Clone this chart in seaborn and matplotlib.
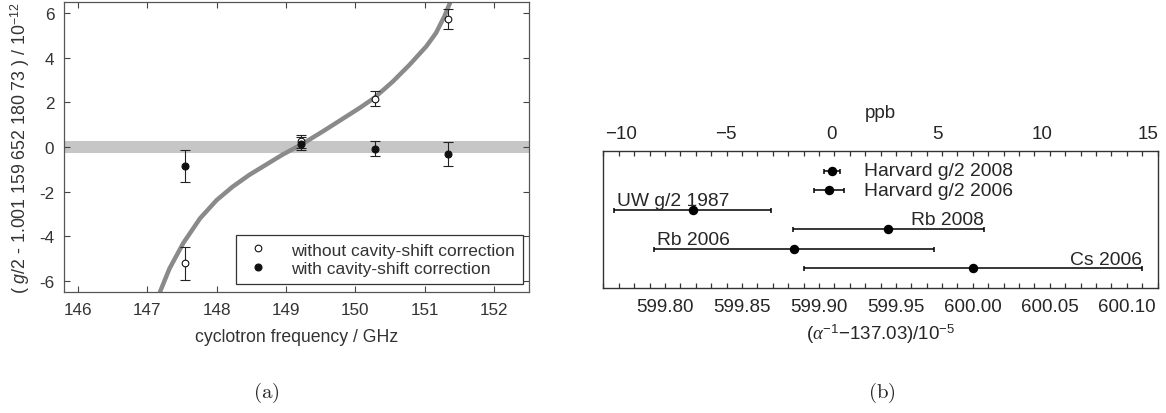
import matplotlib
matplotlib.use('Agg')
import matplotlib.pyplot as plt
import seaborn as sns

# ---- panel (a): g/2 vs cyclotron frequency ----
freq = [147.54, 149.21, 150.28, 151.33]
g_uncorr = [-5.22, 0.25, 2.17, 5.73]
g_uncorr_err = [0.73, 0.30, 0.33, 0.45]
g_corr = [-0.86, 0.15, -0.07, -0.31]
g_corr_err = [0.73, 0.30, 0.33, 0.52]
band_center = 0.0
band_halfwidth = 0.28

# cavity-shift curve
curve_freq = [147.18, 147.32, 147.52, 147.76, 148.00, 148.23, 148.47, 148.95,
              149.22, 149.53, 150.06, 150.27, 150.54, 150.78, 151.02, 151.16,
              151.28, 151.38]
curve_g = [-6.52, -5.45, -4.30, -3.20, -2.38, -1.78, -1.25, -0.34,
           0.11, 0.70, 1.75, 2.20, 2.94, 3.69, 4.51, 5.11, 5.85, 6.60]

freq_ticks = [146, 147, 148, 149, 150, 151, 152]
g_ticks = [-6, -4, -2, 0, 2, 4, 6]
g_tick_labels = ['-6', '-4', '-2', '0', '2', '4', '6']

# ---- panel (b): alpha^-1 comparison ----
meas_labels = ['Harvard g/2 2008', 'Harvard g/2 2006', 'UW g/2 1987',
               'Rb 2008', 'Rb 2006', 'Cs 2006']
meas_rows = [1, 2, 3, 4, 5, 6]
alpha_val = [599.9082, 599.9068, 599.818, 599.945, 599.884, 600.000]
alpha_err = [0.0052, 0.0098, 0.051, 0.062, 0.091, 0.110]
label_pos = ['beside', 'beside', 'left', 'right', 'left', 'right']
alpha_ticks = [599.80, 599.85, 599.90, 599.95, 600.00, 600.05, 600.10]
ppb_ticks = [-10, -5, 0, 5, 10, 15]

sns.set_theme(style='white')
plt.rcParams['font.family'] = ['Liberation Sans', 'DejaVu Sans']
plt.rcParams['mathtext.fontset'] = 'custom'
plt.rcParams['mathtext.rm'] = 'Liberation Sans'
plt.rcParams['mathtext.it'] = 'Liberation Serif:italic'
plt.rcParams['mathtext.sf'] = 'Liberation Sans:italic'
plt.rcParams['axes.unicode_minus'] = True

W, H = 1166, 414
fig = plt.figure(figsize=(W / 100, H / 100), dpi=100)


def px_axes(x0, y0, x1, y1):
    return fig.add_axes([x0 / W, 1 - y1 / H, (x1 - x0) / W, (y1 - y0) / H])


# ================= (a) =================
ax1 = px_axes(64, 3, 529, 293)
txt_gray = '#333333'
ax1.axhspan(band_center - band_halfwidth, band_center + band_halfwidth,
            color='#c6c6c6', lw=0, zorder=0)
sns.lineplot(x=curve_freq, y=curve_g, sort=False, ax=ax1, color='#8a8a8a',
             lw=3.2, zorder=1, solid_joinstyle='round', solid_capstyle='butt')
ax1.errorbar(freq, g_uncorr, yerr=g_uncorr_err, fmt='none', ecolor='#222222',
             elinewidth=0.8, capsize=3.6, capthick=0.8, zorder=2)
ax1.errorbar(freq, g_corr, yerr=g_corr_err, fmt='none', ecolor='#222222',
             elinewidth=0.8, capsize=3.6, capthick=0.8, zorder=2)
ax1.plot(freq, g_uncorr, 'o', ms=4.8, mfc='white', mec='#111111', mew=0.8,
         ls='none', zorder=3, label='without cavity-shift correction')
ax1.plot(freq, g_corr, 'o', ms=5.0, mfc='#111111', mec='#111111', mew=0.8,
         ls='none', zorder=3, label='with cavity-shift correction')

ax1.set_xlim(145.8, 152.5)
ax1.set_ylim(-6.5, 6.5)
ax1.set_xticks(freq_ticks)
ax1.set_yticks(g_ticks)
ax1.set_yticklabels(g_tick_labels)
ax1.tick_params(axis='both', which='major', direction='in', length=4,
                width=0.8, color='#444444', labelsize=12.3,
                labelcolor=txt_gray, top=True, right=True, bottom=True,
                left=True, pad=7)
for sp in ax1.spines.values():
    sp.set_color('#555555')
    sp.set_linewidth(0.9)
ax1.set_xlabel('cyclotron frequency / GHz', fontsize=12.7, color=txt_gray,
               labelpad=8)
ax1.set_ylabel(r'( $\mathsf{g}$/2 - 1.001 159 652 180 73 ) / 10$^{-12}$',
               fontsize=12.8, color=txt_gray, labelpad=5)
leg = ax1.legend(loc='lower right', bbox_to_anchor=(0.9865, 0.0276),
                 borderaxespad=0, fontsize=12.5, frameon=True, fancybox=False,
                 framealpha=1, edgecolor='#333333', handletextpad=1.1,
                 borderpad=0.45, labelspacing=0.2, handlelength=1.6)
leg.get_frame().set_linewidth(0.9)
for t in leg.get_texts():
    t.set_color(txt_gray)

# ================= (b) =================
ax2 = px_axes(603, 152, 1158, 289)
ax2.errorbar(alpha_val, meas_rows, xerr=alpha_err, fmt='o', color='black',
             ms=5.8, elinewidth=1.1, capsize=1.8, capthick=1.1)
ax2.set_xlim(599.7597, 600.1203)
ax2.set_ylim(7, 0)
ax2.set_yticks([])

harvard_x = alpha_val[1] + alpha_err[1]
for lab, row, v, e, pos in zip(meas_labels, meas_rows, alpha_val, alpha_err,
                               label_pos):
    if pos == 'beside':
        ax2.annotate(lab, (harvard_x, row), xytext=(14, 0),
                     textcoords='offset points', ha='left', va='center',
                     fontsize=13.9)
    elif pos == 'left':
        ax2.annotate(lab, (v - e, row), xytext=(2, 3.5),
                     textcoords='offset points', ha='left', va='baseline',
                     fontsize=13.9)
    else:
        ax2.annotate(lab, (v + e, row), xytext=(0, 3.5),
                     textcoords='offset points', ha='right', va='baseline',
                     fontsize=13.9)

ax2.set_xticks(alpha_ticks)
ax2.set_xticklabels([f'{t:.2f}' for t in alpha_ticks])
ax2.xaxis.set_minor_locator(matplotlib.ticker.MultipleLocator(0.01))
ax2.tick_params(axis='x', which='both', direction='in', length=3.5, width=0.9,
                color='#333333', top=True, bottom=True, labelsize=13.5, pad=7)
for sp in ax2.spines.values():
    sp.set_color('#333333')
    sp.set_linewidth(1.0)
ax2.set_xlabel(r'($\alpha^{-1}$−137.03)/10$^{-5}$', fontsize=13.5, labelpad=5)

ref = alpha_val[0]
ppb_per_unit = 1e4 / 137.036
sec = ax2.secondary_xaxis('top', functions=(lambda x: (x - ref) * ppb_per_unit,
                                            lambda p: p / ppb_per_unit + ref))
sec.set_xticks(ppb_ticks)
sec.tick_params(length=0, labelsize=13.5, pad=6.5)
sec.spines['top'].set_visible(False)
sec.set_xlabel('ppb', fontsize=13.5, labelpad=6)

# sub-figure captions
fig.text(266.7 / W, 1 - 393 / H, r'$\mathrm{(a)}$', ha='center', va='center',
         fontsize=15, math_fontfamily='cm')
fig.text(882 / W, 1 - 393 / H, r'$\mathrm{(b)}$', ha='center', va='center',
         fontsize=15, math_fontfamily='cm')

fig.savefig('out.png', dpi=100)
